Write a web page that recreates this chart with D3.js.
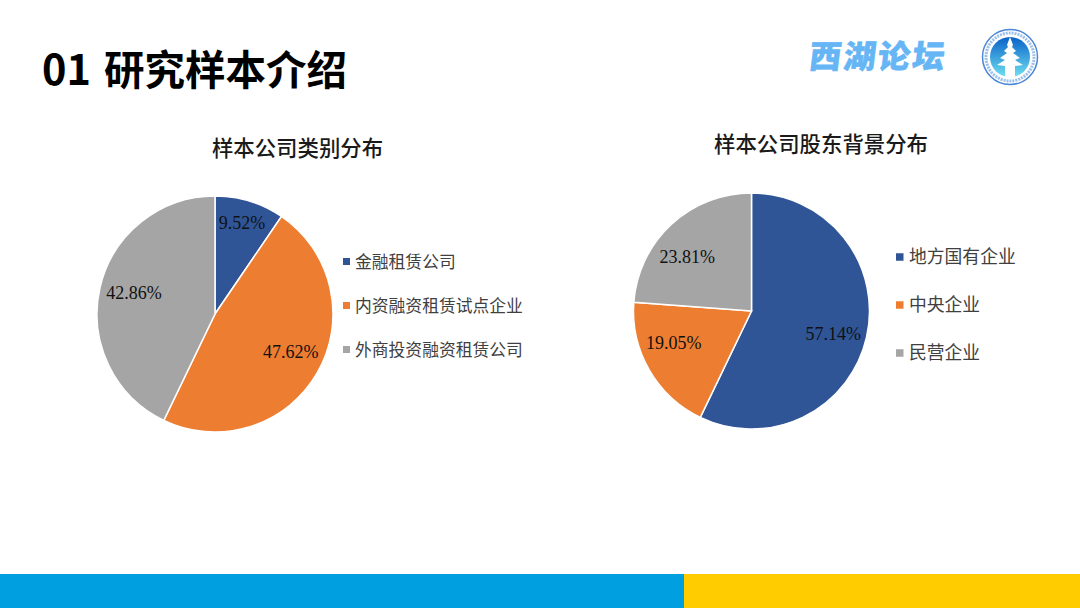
<!DOCTYPE html>
<html><head><meta charset="utf-8">
<script src="https://cdn.jsdelivr.net/npm/d3@7/dist/d3.min.js"></script>
<style>html,body{margin:0;padding:0;background:#fff}svg{display:block}</style></head>
<body><svg id="c" width="1080" height="608"></svg>
<script>
const pageNumber = "01";
const pageTitle = "研究样本介绍";
const logoText = "西湖论坛";
const titleA = "样本公司类别分布";
const categoriesA = ["金融租赁公司","内资融资租赁试点企业","外商投资融资租赁公司"];
const valuesA = [9.52,47.62,42.86];
const titleB = "样本公司股东背景分布";
const categoriesB = ["地方国有企业","中央企业","民营企业"];
const valuesB = [57.14,19.05,23.81];
const colors = ["#2f5597","#ed7d31","#a5a5a5"];
const CJK = '"Noto Sans CJK SC","Noto Sans",sans-serif';
const svg = d3.select("#c");

svg.append("rect").attr("x",0).attr("y",574).attr("width",684).attr("height",34).attr("fill","#009fdf");
svg.append("rect").attr("x",684).attr("y",574).attr("width",396).attr("height",34).attr("fill","#ffcc00");

const head = svg.append("text").attr("y",85).attr("font-family",CJK).attr("font-weight",700).attr("fill","#000");
head.append("tspan").attr("x",42).attr("font-size",41.5).text(pageNumber);
head.append("tspan").attr("x",104).attr("font-size",40.5).text(pageTitle);

svg.append("text").attr("transform","translate(808,68) skewX(-7)")
  .attr("font-family",'"Noto Sans CJK SC"').attr("font-weight",900)
  .attr("font-size",32).attr("letter-spacing",2.4).attr("fill","#66b5f5")
  .attr("stroke","#66b5f5").attr("stroke-width",0.6).text(logoText);

// emblem
const logo = svg.append("g").attr("transform","translate(1010,57)");
const grad = svg.append("defs").append("linearGradient").attr("id","lg").attr("x1",0).attr("y1",0).attr("x2",0).attr("y2",1);
grad.append("stop").attr("offset",0).attr("stop-color","#0a62c8");
grad.append("stop").attr("offset",1).attr("stop-color","#6fe0f0");
logo.append("circle").attr("r",27.5).attr("fill","#fff").attr("stroke","#4a86d8").attr("stroke-width",1.5);
logo.append("circle").attr("r",24).attr("fill","none").attr("stroke","#9cc0ea").attr("stroke-width",3).attr("stroke-dasharray","2 1");
logo.append("circle").attr("r",20).attr("fill","url(#lg)");
logo.append("path").attr("fill","#fff")
  .attr("d","M0,-20L3,-12L2,-10L6,-6L3,-4L10,1L5,3L13,8L5,9L5,20L-5,20L-5,9L-13,8L-5,3L-10,1L-3,-4L-6,-6L-2,-10L-3,-12Z");

function drawPie(cfg){
  const {cats,vals,cx,cy,r,title,titleX,titleY,labelR,nudge,legX,legY,legStep,legSize,sw,swGap} = cfg;
  const pie = d3.pie().sort(null).value(d=>d)(vals);
  const arc = d3.arc().innerRadius(0).outerRadius(r);
  const g = svg.append("g").attr("transform",`translate(${cx},${cy})`);
  g.selectAll("path").data(pie).join("path").attr("d",arc)
    .attr("fill",(d,i)=>colors[i]).attr("stroke","#fff").attr("stroke-width",1.5);
  g.selectAll("text").data(pie).join("text")
    .attr("transform",(d,i)=>{
      const c = d3.arc().innerRadius(labelR[i]).outerRadius(labelR[i]).centroid(d);
      return `translate(${c[0]+nudge[i][0]},${c[1]+nudge[i][1]})`;
    })
    .attr("text-anchor","middle").attr("dy","0.35em")
    .attr("font-family",'"Liberation Serif",serif').attr("font-size",18).attr("fill","#111")
    .text(d=>d.value.toFixed(2)+"%");
  svg.append("text").attr("x",titleX).attr("y",titleY).attr("text-anchor","middle")
    .attr("font-family",CJK).attr("font-weight",500).attr("font-size",21.4).attr("fill","#1a1a1a").text(title);
  const y = d3.scalePoint().domain(cats).range([legY,legY+legStep*(cats.length-1)]);
  const leg = svg.append("g").selectAll("g").data(cats).join("g")
    .attr("transform",d=>`translate(${legX},${y(d)})`);
  leg.append("rect").attr("x",0).attr("y",-sw/2).attr("width",sw).attr("height",sw)
    .attr("fill",(d,i)=>colors[i]);
  leg.append("text").attr("x",swGap).attr("dy","0.36em")
    .attr("font-family",CJK).attr("font-size",legSize).attr("fill","#404040").text(d=>d);
}
drawPie({cats:categoriesA,vals:valuesA,cx:215,cy:314,r:118,title:titleA,titleX:297.5,titleY:156,
  labelR:[95,84,84],nudge:[[-1,-1],[3,-4],[1,-3]],legX:343,legY:261.5,legStep:44,legSize:16.8,sw:7,swGap:12});
drawPie({cats:categoriesB,vals:valuesB,cx:751.5,cy:311,r:118,title:titleB,titleX:821,titleY:152,
  labelR:[85,84,84],nudge:[[-1,4],[-5,-10],[-7,7]],legX:896,legY:257,legStep:48,legSize:17.8,sw:7.5,swGap:13});
</script></body></html>
